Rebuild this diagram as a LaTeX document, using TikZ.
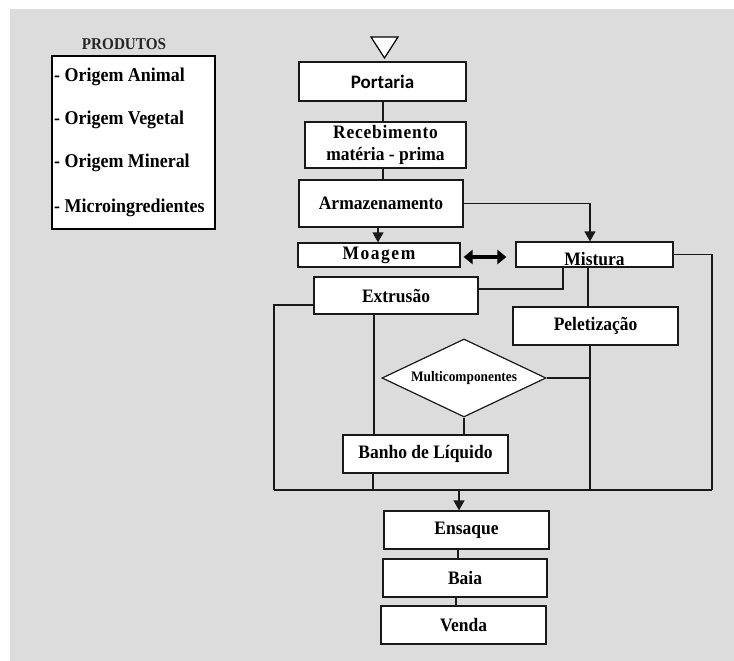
\documentclass[tikz,border=0pt]{standalone}
\usepackage{fontspec}
\setmainfont{Liberation Serif}[FakeStretch=0.92]
\newfontfamily\calib{Carlito}
\usetikzlibrary{arrows.meta,shapes.geometric,calc}
\definecolor{bgc}{HTML}{DCDCDC}
\begin{document}
\begin{tikzpicture}[x=1pt,y=-1pt,
  ln/.style={draw=black!90, line width=1.2pt},
  arr/.style={ln, -{Triangle[length=10pt,width=11pt]}},
  dbl/.style={draw=black, line width=4pt, {Triangle[length=9pt,width=14pt]}-{Triangle[length=9pt,width=14pt]}},
  box/.style={draw=black!90, line width=1.2pt, fill=white, inner sep=0pt,
    font=\fontsize{19}{22}\selectfont\bfseries, align=center},
  txt/.style={inner sep=0pt, font=\fontsize{19.5}{22}\selectfont\bfseries}]
\useasboundingbox (0,0) rectangle (734,661);
\fill[white] (0,0) rectangle (734,661);
\fill[bgc] (10,9) rectangle (734,661);

% legend
\node[txt, font=\fontsize{16.5}{18}\selectfont\bfseries, text=black!85] (prod) at (124,44) {PRODUTOS};
\node[draw=black, line width=1.2pt, fill=white, minimum width=163pt, minimum height=173pt, inner sep=0pt] (legend) at (133.5,142.5) {};
\node[txt, anchor=west] (l1) at (54,77) {- Origem Animal};
\node[txt, anchor=west] (l2) at (54,120) {- Origem Vegetal};
\node[txt, anchor=west] (l3) at (54,163) {- Origem Mineral};
\node[txt, anchor=west] (l4) at (54,208) {- Microingredientes};

% start triangle
\draw[line width=1.2pt, fill=white] (371,37) -- (398,37) -- (384.5,58) -- cycle;

% boxes
\node[box, minimum width=167pt, minimum height=39pt, font=\calib\fontsize{19}{22}\selectfont\bfseries] (portaria) at (382.5,81.5) {Portaria};
\node[box, minimum width=161pt, minimum height=46pt] (receb) at (385.5,145) {{\addfontfeature{LetterSpace=4}Recebimento}\\matéria - prima};
\node[box, minimum width=164pt, minimum height=47pt] (armaz) at (381,203.5) {Armazenamento};
\node[box, minimum width=162pt, minimum height=24pt] (moagem) at (379,255) {{\addfontfeature{LetterSpace=8}Moagem}};
\node[box, minimum width=157pt, minimum height=25pt, text height=21pt, text depth=0pt] (mistura) at (594.5,254.5) {Mistura};
\node[box, minimum width=164pt, minimum height=37pt] (extrusao) at (396,295.5) {Extrusão};
\node[box, minimum width=165pt, minimum height=38pt] (peletizacao) at (595.5,326) {Peletização};
\node[diamond, aspect=2, draw=black!90, line width=1.2pt, fill=white, inner sep=0pt,
  minimum width=164pt, minimum height=78pt, font=\fontsize{14.5}{16}\selectfont\bfseries] (multi) at (464,378) {Multicomponentes};
\node[box, minimum width=165pt, minimum height=38pt] (banho) at (425.5,454) {Banho de Líquido};
\node[box, minimum width=165pt, minimum height=38pt] (ensaque) at (466.5,530) {Ensaque};
\node[box, minimum width=164pt, minimum height=38pt] (baia) at (465,578) {Baia};
\node[box, minimum width=165pt, minimum height=38pt] (venda) at (463.5,625) {Venda};

% helper coordinates
\coordinate (vA) at (563,0);
\coordinate (vP1) at (588,0);
\coordinate (vP) at (590,0);
\coordinate (vX) at (374,0);
\coordinate (vB) at (373,0);
\coordinate (vE) at (459,0);
\coordinate (vE2) at (458,0);
\coordinate (vE3) at (456,0);
\coordinate (vM) at (378,0);
\coordinate (vR) at (383,0);
\coordinate (bl) at (274,490);
\coordinate (br) at (712,490);

% connectors
\draw[ln] (portaria.south -| vR) -- (receb.north -| vR);
\draw[ln] (receb.south -| vR) -- (armaz.north -| vR);
\draw[arr] (armaz.south -| vM) -- (moagem.north -| vM);
\draw[arr] (armaz.east) -| (mistura.north -| vP);
\draw[dbl] ($(moagem.east)+(3,2)$) -- ($(mistura.west)+(-9,2.5)$);
\draw[ln] (mistura.east) -| (br);
\draw[ln] (mistura.south -| vA) |- ($(extrusao.east)+(0,-6.5)$);
\draw[ln] ($(extrusao.west)+(0,9.5)$) -| (bl);
\draw[ln] (extrusao.south -| vX) -- (banho.north -| vX);
\draw[ln] (mistura.south -| vP1) -- (peletizacao.north -| vP1);
\draw[ln] (peletizacao.south -| vP) -- (br -| vP);
\draw[ln] (multi.east) -- (multi.east -| vP);
\draw[ln] (multi.south) -- (multi.south |- banho.north);
\draw[ln] (banho.south -| vB) -- (bl -| vB);
\draw[ln] (bl) -- (br);
\draw[arr] (bl -| vE) -- (ensaque.north -| vE);
\draw[ln] (ensaque.south -| vE2) -- (baia.north -| vE2);
\draw[ln] (baia.south -| vE3) -- (venda.north -| vE3);
\end{tikzpicture}
\end{document}
